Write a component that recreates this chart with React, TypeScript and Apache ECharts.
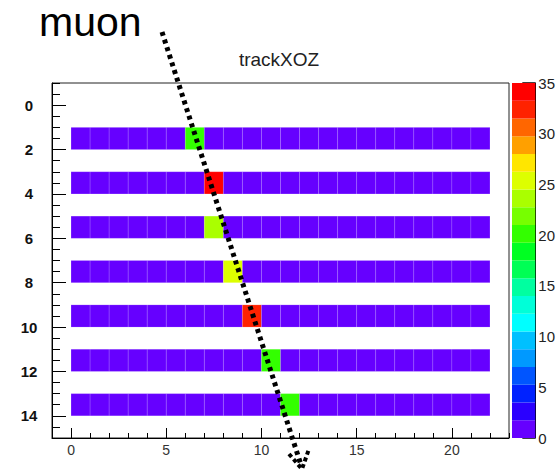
import React, { useEffect, useRef } from 'react';
import * as echarts from 'echarts';

// ---- data ----
const TITLE = 'trackXOZ';
const ANNOTATION = 'muon';
const NUM_COLS = 22;
const ROW_LOW_EDGES = [1, 3, 5, 7, 9, 11, 13];
const HIT_COLUMNS = [6, 7, 7, 8, 9, 10, 11];
const HIT_VALUES = [20, 34, 23.5, 25.5, 32, 20, 20];
const BASE_VALUE = 1;
const X_MAJOR_TICKS = [0, 5, 10, 15, 20];
const Y_MAJOR_TICKS = [0, 2, 4, 6, 8, 10, 12, 14];
const Z_MAX = 35;
// palette bins, bottom (0) to top (35)
const PALETTE = [
  '#6600ff', '#2a00ff', '#0022ff', '#0055ff', '#0099ff',
  '#00c0ff', '#00ffff', '#00ffd8', '#00ffa0', '#00ff55',
  '#00ff22', '#33ff00', '#77ff00', '#aaff00', '#ddff00',
  '#ffe600', '#ffa000', '#ff6600', '#ff2200', '#ff0000',
];

const FONT = '"Liberation Sans", Arial, Helvetica, sans-serif';

export default function App() {
  const ref = useRef<HTMLDivElement>(null);

  useEffect(() => {
    if (!ref.current) return;
    const chart = echarts.init(ref.current, undefined, { renderer: 'svg' });

    const cells: number[][] = [];
    ROW_LOW_EDGES.forEach((y, r) => {
      for (let c = 0; c < NUM_COLS; c++) {
        cells.push([c, y, c === HIT_COLUMNS[r] ? HIT_VALUES[r] : BASE_VALUE]);
      }
    });
    const step = Z_MAX / PALETTE.length;
    const barBins = PALETTE.map((_, i) => [i]);

    const option: any = {
      animation: false,
      backgroundColor: '#ffffff',
      grid: [
        { left: 52, top: 83, width: 457, height: 355, show: true, borderColor: '#222', borderWidth: 1, backgroundColor: 'transparent' },
        { left: 512, top: 83, width: 25, height: 355 },
      ],
      xAxis: [
        {
          gridIndex: 0, type: 'value', min: -1, max: 23, interval: 1, position: 'bottom',
          axisLine: { show: true, onZero: false, lineStyle: { color: '#000', width: 1 } },
          axisTick: { show: true, inside: true, length: 5, lineStyle: { color: '#000' } },
          axisLabel: { show: false }, splitLine: { show: false },
        },
        {
          gridIndex: 0, type: 'value', min: -1, max: 23, position: 'bottom',
          axisLine: { show: false, onZero: false },
          axisTick: { show: true, inside: true, length: 10, customValues: X_MAJOR_TICKS, lineStyle: { color: '#000' } },
          axisLabel: { show: true, customValues: X_MAJOR_TICKS, margin: 5, fontSize: 14, color: '#333', fontFamily: FONT },
          splitLine: { show: false },
        },
        { gridIndex: 1, type: 'value', min: 0, max: 1, show: false },
      ],
      yAxis: [
        {
          gridIndex: 0, type: 'value', min: -1, max: 15, interval: 0.5, inverse: true, position: 'left',
          axisLine: { show: true, onZero: false, lineStyle: { color: '#000', width: 1 } },
          axisTick: { show: true, inside: true, length: 8, lineStyle: { color: '#000' } },
          axisLabel: { show: false }, splitLine: { show: false },
        },
        {
          gridIndex: 0, type: 'value', min: -1, max: 15, inverse: true, position: 'left',
          axisLine: { show: false, onZero: false },
          axisTick: { show: true, inside: true, length: 14, customValues: Y_MAJOR_TICKS, lineStyle: { color: '#000' } },
          axisLabel: { show: true, customValues: Y_MAJOR_TICKS, margin: 23, align: 'center', fontSize: 15, fontWeight: 'bold', color: '#111', fontFamily: FONT },
          splitLine: { show: false },
        },
        {
          gridIndex: 1, type: 'value', min: 0, max: Z_MAX, interval: 5, position: 'right',
          axisLine: { show: true, onZero: false, lineStyle: { color: '#000', width: 1 } },
          axisTick: { show: true, inside: true, length: 13, lineStyle: { color: '#000', width: 1.5 } },
          axisLabel: { show: true, margin: 3, fontSize: 15, color: '#222', fontFamily: FONT },
          splitLine: { show: false },
        },
      ],
      series: [
        {
          type: 'custom',
          xAxisIndex: 0, yAxisIndex: 0,
          data: cells,
          encode: { x: 0, y: 1 },
          renderItem: (_params: any, api: any) => {
            const x = api.value(0), y = api.value(1), v = api.value(2);
            const p0 = api.coord([x, y]);
            const p1 = api.coord([x + 1, y + 1]);
            const idx = Math.min(PALETTE.length - 1, Math.floor(v / step));
            return {
              type: 'rect',
              shape: {
                x: Math.min(p0[0], p1[0]), y: Math.min(p0[1], p1[1]),
                width: Math.abs(p1[0] - p0[0]), height: Math.abs(p1[1] - p0[1]),
              },
              style: { fill: PALETTE[idx], stroke: 'rgba(255,255,255,0.12)', lineWidth: 1 },
            };
          },
        },
        {
          type: 'custom',
          xAxisIndex: 2, yAxisIndex: 2,
          data: barBins,
          renderItem: (_params: any, api: any) => {
            const i = api.value(0);
            const p0 = api.coord([0, (i + 1) * step]);
            const p1 = api.coord([1, i * step]);
            return {
              type: 'rect',
              shape: { x: p0[0], y: p0[1], width: p1[0] - p0[0], height: p1[1] - p0[1] },
              style: { fill: PALETTE[i] },
            };
          },
        },
      ],
      graphic: [
        {
          type: 'text', x: 279, y: 59, z: 50,
          style: { text: TITLE, font: `19px ${FONT}`, fill: '#222', textAlign: 'center', textVerticalAlign: 'middle' },
        },
        {
          type: 'text', x: 39, y: 22, z: 50,
          style: { text: ANNOTATION, font: `41px ${FONT}`, fill: '#000', textAlign: 'left', textVerticalAlign: 'middle' },
        },
        {
          type: 'line', z: 100,
          shape: { x1: 162, y1: 32, x2: 301, y2: 465 },
          style: { stroke: '#000', lineWidth: 5, lineDash: [4, 4] },
        },
        {
          type: 'polyline', z: 100,
          shape: { points: [[289, 454], [302, 469], [309, 449]] },
          style: { stroke: '#000', lineWidth: 4, lineDash: [4, 3], fill: null },
        },
      ],
    };

    chart.setOption(option);
    return () => chart.dispose();
  }, []);

  return (
    <div
      ref={ref}
      style={{ position: 'fixed', left: 0, top: 0, width: 558, height: 472, background: '#fff' }}
    />
  );
}
